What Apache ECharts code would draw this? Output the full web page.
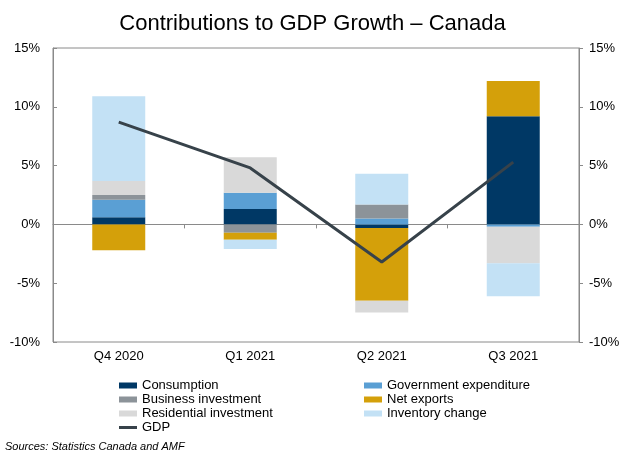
<!DOCTYPE html>
<html>
<head>
<meta charset="utf-8">
<script src="https://cdn.jsdelivr.net/npm/echarts@6/dist/echarts.min.js"></script>
<style>
  html, body { margin: 0; padding: 0; background: #fff; }
  #chart { width: 625px; height: 453px; }
</style>
</head>
<body>
<div id="chart"></div>
<script>
// Quarterly contributions to real GDP growth (percentage points, annualized)
const categories = ['Q4 2020', 'Q1 2021', 'Q2 2021', 'Q3 2021'];
const consumption = [0.6, 1.3, -0.3, 9.2];
const government = [1.5, 1.4, 0.5, -0.2];
const business = [0.4, -0.7, 1.2, 0.0];
const netExports = [-2.2, -0.6, -6.2, 3.0];
const residential = [1.2, 3.0, -1.0, -3.1];
const inventory = [7.2, -0.8, 2.6, -2.8];
const gdp = [8.7, 4.8, -3.2, 5.3];

const FONT = '"Liberation Sans", Arial, sans-serif';
const AXIS_GREY = '#8a8a8a';
const GDP_COLOR = '#37424A';

const colors = {
  'Consumption': '#003865',
  'Government expenditure': '#5A9FD4',
  'Business investment': '#8C9399',
  'Net exports': '#D4A00A',
  'Residential investment': '#D9D9D9',
  'Inventory change': '#C3E1F5'
};

function barSeries(name, values) {
  return {
    name: name,
    type: 'bar',
    stack: 'contrib',
    barWidth: 53,
    data: values,
    itemStyle: { color: colors[name] },
    emphasis: { disabled: true }
  };
}

const chart = echarts.init(document.getElementById('chart'), null, { renderer: 'canvas' });

const legendText = { fontFamily: FONT, fontSize: 13, color: '#000' };
const lineIcon = 'path://M0,0 L18,0 L18,3 L0,3 Z';

chart.setOption({
  animation: false,
  title: {
    text: 'Contributions to GDP Growth \u2013 Canada',
    left: 'center',
    top: 8,
    textStyle: { fontFamily: FONT, fontSize: 22, fontWeight: 'normal', color: '#000' }
  },
  graphic: [{
    type: 'text',
    left: 5,
    top: 441,
    style: {
      text: 'Sources: Statistics Canada and AMF',
      font: 'italic 11px ' + FONT,
      fill: '#000'
    }
  }],
  legend: [{
    orient: 'vertical',
    left: 114,
    top: 374,
    itemGap: 1,
    itemWidth: 18,
    itemHeight: 6,
    textStyle: legendText,
    data: [
      { name: 'Consumption', icon: 'rect' },
      { name: 'Business investment', icon: 'rect' },
      { name: 'Residential investment', icon: 'rect' },
      { name: 'GDP', icon: lineIcon, itemStyle: { color: GDP_COLOR } }
    ],
    selectedMode: false
  }, {
    orient: 'vertical',
    left: 359,
    top: 374,
    itemGap: 1,
    itemWidth: 18,
    itemHeight: 6,
    textStyle: legendText,
    data: [
      { name: 'Government expenditure', icon: 'rect' },
      { name: 'Net exports', icon: 'rect' },
      { name: 'Inventory change', icon: 'rect' }
    ],
    selectedMode: false
  }],
  grid: {
    left: 53,
    right: 46,
    top: 48,
    bottom: 111,
    show: true,
    borderColor: AXIS_GREY,
    borderWidth: 1,
    backgroundColor: 'transparent'
  },
  xAxis: [{
    type: 'category',
    data: categories,
    position: 'bottom',
    axisLine: { show: false, onZero: false },
    axisTick: { show: false },
    axisLabel: { fontFamily: FONT, fontSize: 13, color: '#000', margin: 8 }
  }, {
    type: 'category',
    data: categories,
    position: 'bottom',
    axisLine: { show: true, onZero: true, lineStyle: { color: AXIS_GREY, width: 1 } },
    axisTick: { show: true, inside: false, length: 4, lineStyle: { color: AXIS_GREY } },
    axisLabel: { show: false }
  }],
  yAxis: [{
    type: 'value',
    min: -10,
    max: 15,
    interval: 5,
    position: 'left',
    splitLine: { show: false },
    axisLine: { show: true, lineStyle: { color: AXIS_GREY } },
    axisTick: { show: true, inside: true, length: 4, lineStyle: { color: AXIS_GREY } },
    axisLabel: { formatter: '{value}%', fontFamily: FONT, fontSize: 13, color: '#000', margin: 13 }
  }, {
    type: 'value',
    min: -10,
    max: 15,
    interval: 5,
    position: 'right',
    splitLine: { show: false },
    axisLine: { show: true, lineStyle: { color: AXIS_GREY } },
    axisTick: { show: true, inside: false, length: 4, lineStyle: { color: AXIS_GREY } },
    axisLabel: { formatter: '{value}%', fontFamily: FONT, fontSize: 13, color: '#000', margin: 10 }
  }],
  series: [
    barSeries('Consumption', consumption),
    barSeries('Government expenditure', government),
    barSeries('Business investment', business),
    barSeries('Net exports', netExports),
    barSeries('Residential investment', residential),
    barSeries('Inventory change', inventory),
    {
      name: 'GDP',
      type: 'line',
      data: gdp,
      symbol: 'none',
      z: 5,
      lineStyle: { color: GDP_COLOR, width: 3 },
      itemStyle: { color: GDP_COLOR },
      emphasis: { disabled: true }
    }
  ]
});
</script>
</body>
</html>
